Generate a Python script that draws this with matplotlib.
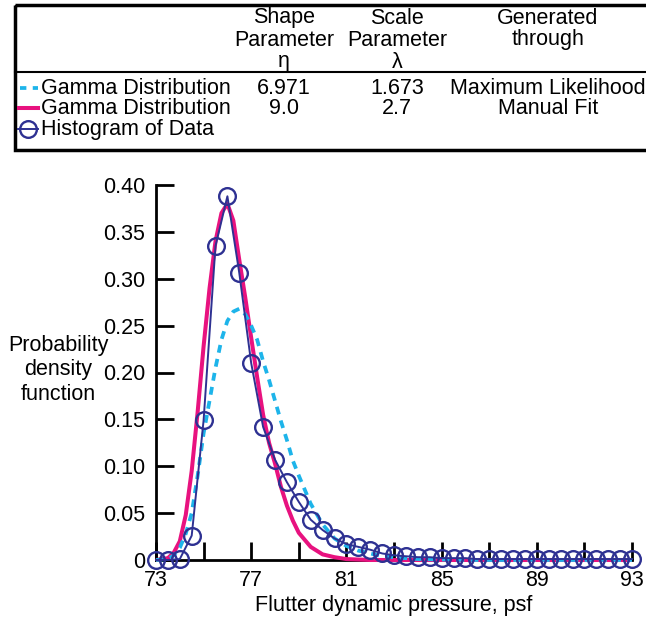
import matplotlib
matplotlib.use("Agg")
import matplotlib.pyplot as plt
from matplotlib.patches import Rectangle
from matplotlib.lines import Line2D

plt.rcParams['font.family'] = ['Liberation Sans', 'DejaVu Sans']

# ---------------- data ----------------
hist_x = [73.0, 73.5, 74.0, 74.5, 75.0, 75.5, 76.0, 76.5, 77.0, 77.5, 78.0, 78.5,
          79.0, 79.5, 80.0, 80.5, 81.0, 81.5, 82.0, 82.5, 83.0, 83.5, 84.0, 84.5,
          85.0, 85.5, 86.0, 86.5, 87.0, 87.5, 88.0, 88.5, 89.0, 89.5, 90.0, 90.5,
          91.0, 91.5, 92.0, 92.5, 93.0]
hist_y = [0.0, 0.0, 0.001, 0.026, 0.149, 0.335, 0.388, 0.306, 0.210, 0.142, 0.107, 0.083,
          0.062, 0.043, 0.032, 0.023, 0.017, 0.014, 0.011, 0.007, 0.005, 0.004, 0.003, 0.003,
          0.002, 0.002, 0.002, 0.001, 0.001, 0.001, 0.001, 0.001, 0.001, 0.001, 0.001, 0.001,
          0.001, 0.001, 0.001, 0.001, 0.001]

ml_x = [73.0, 73.5, 73.75, 74.0, 74.25, 74.5, 74.75, 75.0, 75.25, 75.5, 75.75, 76.0,
        76.25, 76.5, 76.75, 77.0, 77.25, 77.5, 77.75, 78.0, 78.25, 78.5, 78.75, 79.0,
        79.5, 80.0, 80.5, 81.0, 81.5, 82.0, 82.5, 83.0, 84.0, 85.0, 86.0, 93.0]
ml_y = [0.0, 0.001, 0.005, 0.013, 0.028, 0.050, 0.090, 0.135, 0.170, 0.205, 0.235, 0.255,
        0.265, 0.268, 0.262, 0.250, 0.235, 0.212, 0.192, 0.170, 0.148, 0.128, 0.106, 0.090,
        0.060, 0.038, 0.023, 0.015, 0.010, 0.007, 0.004, 0.003, 0.001, 0.0005, 0.0, 0.0]

mf_x = [73.0, 73.5, 73.75, 74.0, 74.25, 74.5, 74.75, 75.0, 75.25, 75.5, 75.75, 76.0,
        76.25, 76.5, 76.75, 77.0, 77.25, 77.5, 77.75, 78.0, 78.25, 78.5, 78.75, 79.0,
        79.5, 80.0, 80.5, 81.0, 82.0, 93.0]
mf_y = [0.0, 0.002, 0.008, 0.020, 0.048, 0.095, 0.158, 0.228, 0.290, 0.340, 0.370, 0.380,
        0.362, 0.320, 0.280, 0.237, 0.195, 0.155, 0.125, 0.103, 0.078, 0.058, 0.042, 0.029,
        0.014, 0.006, 0.003, 0.001, 0.0, 0.0]

series_names = ["Gamma Distribution", "Gamma Distribution", "Histogram of Data"]
shape_params = ["6.971", "9.0", ""]
scale_params = ["1.673", "2.7", ""]
methods = ["Maximum Likelihood", "Manual Fit", ""]
header_shape = ["Shape", "Parameter", "\u03b7"]
header_scale = ["Scale", "Parameter", "\u03bb"]
header_method = ["Generated", "through"]

y_ticks = [0, 0.05, 0.10, 0.15, 0.20, 0.25, 0.30, 0.35, 0.40]
y_ticklabels = ["0", "0.05", "0.10", "0.15", "0.20", "0.25", "0.30", "0.35", "0.40"]
x_ticks = [73, 75, 77, 79, 81, 83, 85, 87, 89, 91, 93]
x_ticklabels = ["73", "", "77", "", "81", "", "85", "", "89", "", "93"]

CYAN = "#1db4ea"
PINK = "#e8127f"
NAVY = "#2e3192"
FS = 15.5

# ---------------- figure ----------------
W, H = 646, 619
fig = plt.figure(figsize=(W / 100, H / 100), dpi=100)

ax = fig.add_axes([156 / W, 1 - 560 / H, (632 - 156) / W, (560 - 185) / H])
ax.plot(mf_x, mf_y, color=PINK, lw=2.9, solid_capstyle='butt', zorder=3, clip_on=False)
ax.plot(ml_x, ml_y, color=CYAN, lw=2.7, dashes=(2.1, 1.7), zorder=4, clip_on=False)
ax.plot(hist_x, hist_y, color=NAVY, lw=1.4, marker='o', ms=12, mfc='none',
        mec=NAVY, mew=1.7, zorder=5, clip_on=False)

ax.set_xlim(73, 93)
ax.set_ylim(0, 0.40)
for s in ['top', 'right']:
    ax.spines[s].set_visible(False)
for s in ['left', 'bottom']:
    ax.spines[s].set_linewidth(2)
ax.set_xticks(x_ticks)
ax.set_xticklabels(x_ticklabels)
ax.set_yticks(y_ticks)
ax.set_yticklabels(y_ticklabels)
ax.tick_params(direction='in', length=13, width=2, labelsize=FS)
ax.tick_params(axis='y', pad=8)
ax.tick_params(axis='x', pad=7)
ax.set_xlabel("Flutter dynamic pressure, psf", fontsize=FS, labelpad=3)

# overlay in pixel units for the y label and the table
ov = fig.add_axes([0, 0, 1, 1], facecolor='none')
ov.set_xlim(0, W)
ov.set_ylim(H, 0)
ov.axis('off')
for i, t in enumerate(["Probability", "density", "function"]):
    ov.text(58, 345 + i * 25, t, ha='center', va='center', fontsize=FS)

# ---------------- table/legend ----------------
ov.add_patch(Rectangle((15, 5), 700, 145, fill=False, lw=2.5, ec='black', clip_on=False))
ov.plot([15, 700], [72, 72], color='black', lw=1.5, clip_on=False)

col_shape, col_scale, col_method = 284, 397, 548
for i, t in enumerate(header_shape):
    ov.text(col_shape, 18 + i * 22, t, ha='center', va='center', fontsize=FS)
for i, t in enumerate(header_scale):
    ov.text(col_scale, 18 + i * 22, t, ha='center', va='center', fontsize=FS)
for i, t in enumerate(header_method):
    ov.text(col_method, 18 + i * 22, t, ha='center', va='center', fontsize=FS)

row_y = [88, 108, 129]
for i in range(3):
    ov.text(41, row_y[i], series_names[i], ha='left', va='center', fontsize=FS)
    ov.text(col_shape, row_y[i], shape_params[i], ha='center', va='center', fontsize=FS)
    ov.text(col_scale, row_y[i], scale_params[i], ha='center', va='center', fontsize=FS)
    ov.text(col_method, row_y[i], methods[i], ha='center', va='center', fontsize=FS)

ov.add_line(Line2D([20, 38], [row_y[0], row_y[0]], color=CYAN, lw=2.7, dashes=(1.7, 1.7)))
ov.add_line(Line2D([19, 38], [row_y[1], row_y[1]], color=PINK, lw=2.9))
ov.add_line(Line2D([18, 38], [row_y[2], row_y[2]], color=NAVY, lw=1.4))
ov.plot([28], [row_y[2]], marker='o', ms=12, mfc='none', mec=NAVY, mew=1.7)

fig.savefig("out.png", dpi=100)
